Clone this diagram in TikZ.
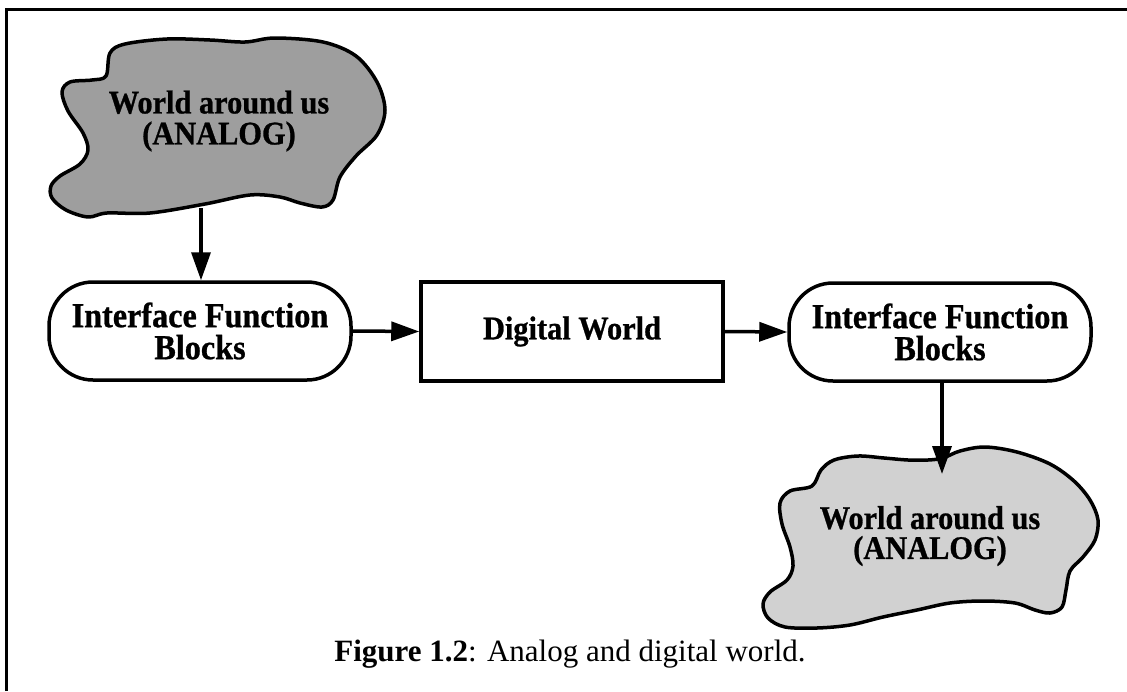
\documentclass[tikz,border=0pt]{standalone}
\usepackage{fontspec}
\setmainfont{Liberation Serif}
\newfontfamily\narrowserif[FakeStretch=0.92,FakeBold=0.8]{Liberation Serif}
\usetikzlibrary{arrows.meta}

\tikzset{
  frameline/.style={line width=3pt},
  cloudline/.style={line width=3.5pt, line join=round},
  darkcloud/.style={cloudline, fill=black!38},
  lightcloud/.style={cloudline, fill=black!18},
  cloudtext/.style={font=\narrowserif\bfseries\fontsize{33}{31}\selectfont, align=center, inner sep=0pt},
  roundbox/.style={draw, line width=3.5pt, rounded corners=44pt,
    minimum width=302pt, minimum height=98pt, align=center, inner sep=0pt,
    font=\narrowserif\bfseries\fontsize{35}{32}\selectfont},
  squarebox/.style={draw, line width=3.5pt, minimum width=302pt, minimum height=99pt,
    align=center, inner sep=0pt, font=\narrowserif\bfseries\fontsize{33}{32}\selectfont},
  flow/.style={line width=3.5pt, -{Triangle[length=28pt,width=19pt]}},
  captiontext/.style={font=\fontsize{31}{36}\selectfont, inner sep=0pt, anchor=base}
}

\begin{document}
\begin{tikzpicture}[x=1pt, y=-1pt]
  \useasboundingbox (0,0) rectangle (1127,691);

  % frame: left and top rules
  \draw[frameline] (6,691) -- (6,9) -- (1127,9);

  % upper cloud
  \draw[darkcloud] plot[smooth cycle, tension=0.55] coordinates {
    (110,53) (125,44) (167,39) (210,40) (245,42) (275,38) (323,42) (356,56)
    (377,82) (385,110) (377,135) (356,156) (340,177) (333,200) (322,207)
    (300,203) (280,197) (250,195) (205,204) (150,213) (107,213) (88,217)
    (66,210) (52,198) (51,186) (60,176) (80,164) (88,150) (83,133)
    (68,111) (62,92) (70,82) (92,80) (106,76)};
  \node[cloudtext] (cloudA) at (219,121) {World around us\\(ANALOG)};

  % lower cloud
  \draw[lightcloud] plot[smooth cycle, tension=0.55] coordinates {
    (943,458) (960,451) (985,447) (1017,452) (1050,464) (1074,481)
    (1090,500) (1098,520) (1095,540) (1083,557) (1070,571) (1066,590)
    (1062,607) (1050,613) (1035,610) (1015,603) (983,601) (950,603)
    (917,610) (883,617) (850,625) (817,628) (785,627) (768,618)
    (763,604) (770,592) (787,580) (793,566) (790,547) (782,524)
    (780,503) (790,491) (812,486) (821,470) (834,460) (858,456)
    (884,458) (908,460) (928,460)};
  \node[cloudtext, font=\narrowserif\bfseries\fontsize{33}{30}\selectfont] (cloudB) at (930,536) {World around us\\(ANALOG)};

  % blocks
  \node[roundbox] (ifl) at (200,331) {Interface Function\\Blocks};
  \node[squarebox] (dig) at (572,331.5) {Digital World};
  \node[roundbox] (ifr) at (940,332) {Interface Function\\Blocks};

  % connectors
  \coordinate (cloudAout) at (201,208);
  \coordinate (cloudBin) at (942,474);
  \draw[flow] (cloudAout) -- (cloudAout |- ifl.north);
  \draw[flow] (ifl.east) -- (dig.west);
  \draw[flow] (dig.east) -- (ifr.west);
  \draw[flow] (ifr.south -| cloudBin) -- (cloudBin);

  % caption
  \node[captiontext] (cap) at (570,661) {\textbf{Figure 1.2}: Analog and digital world.};
\end{tikzpicture}
\end{document}
